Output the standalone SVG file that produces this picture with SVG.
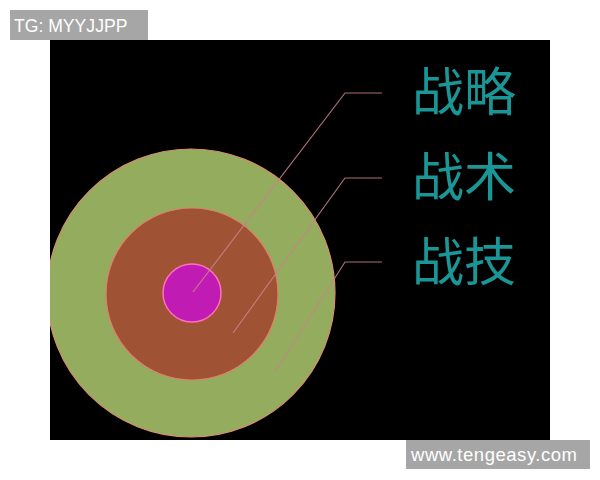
<svg xmlns="http://www.w3.org/2000/svg" width="600" height="480" viewBox="0 0 600 480">
<defs>
<style>
.lbl{font-family:"Liberation Sans",Arial,sans-serif;fill:#ffffff}
.zh{font-family:"Noto Sans CJK SC","Noto Sans",sans-serif;font-size:52px;fill:#1a9696}
.conn{fill:none;stroke:#c9828a;stroke-width:1.2;stroke-opacity:0.85}
</style>
<clipPath id="bg"><rect x="50" y="40" width="500" height="400"/></clipPath>
</defs>
<rect width="600" height="480" fill="#ffffff"/>
<rect id="background" x="50" y="40" width="500" height="400" fill="#000000"/>
<g clip-path="url(#bg)">
<g id="outer"><circle cx="191" cy="293" r="144" fill="#93ac5e" stroke="#d4906c" stroke-width="1.2"/></g>
<g id="middle"><circle cx="192" cy="294" r="86" fill="#a05235" stroke="#e0806a" stroke-width="1.2"/></g>
<g id="inner"><circle cx="192" cy="293" r="29" fill="#c01cb4" stroke="#ff70b8" stroke-width="1.5"/></g>
<g id="connectors">
<polyline class="conn" points="193,292 345,93 382,93"/>
<polyline class="conn" points="233,333 345,178 382,178"/>
<polyline class="conn" points="275,372 345,262 382,262"/>
</g>
</g>
<g id="label-zhanlue"><text class="zh" x="412" y="111">战略</text></g>
<g id="label-zhanshu"><text class="zh" x="412" y="196">战术</text></g>
<g id="label-zhanji"><text class="zh" x="412" y="281">战技</text></g>
<g id="tag-top">
<rect x="10" y="10" width="138" height="30" fill="#a6a6a6"/>
<text class="lbl" x="14" y="32" font-size="17.6">TG: MYYJJPP</text>
</g>
<g id="tag-bottom">
<rect x="406" y="440" width="184" height="29" fill="#a6a6a6"/>
<text class="lbl" x="411" y="461" font-size="18.5" textLength="166">www.tengeasy.com</text>
</g>
</svg>
